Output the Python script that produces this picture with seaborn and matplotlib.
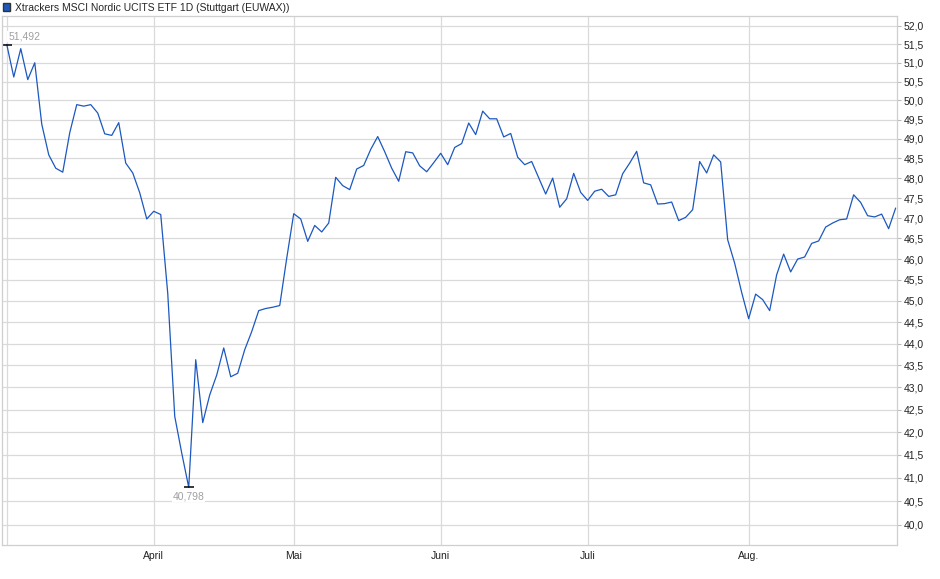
import matplotlib
matplotlib.use('Agg')
import matplotlib.pyplot as plt
import matplotlib.ticker as mticker
from matplotlib.patches import Patch
import numpy as np
import pandas as pd
import seaborn as sns

title = 'Xtrackers MSCI Nordic UCITS ETF 1D (Stuttgart (EUWAX))'

# daily closes, one per trading day starting 3 March 2025
prices = [
    51.492, 50.62, 51.38, 50.55, 51.00, 49.38, 48.59, 48.25, 48.15, 49.16,
    49.89, 49.85, 49.89, 49.67, 49.13, 49.09, 49.42, 48.38, 48.13, 47.63,
    46.98, 47.17, 47.09, 45.18, 42.35, 41.54, 40.798, 43.63, 42.21, 42.83,
    43.28, 43.90, 43.24, 43.32, 43.86, 44.28, 44.77, 44.82, 44.85, 44.89,
    46.02, 47.11, 46.98, 46.43, 46.82, 46.66, 46.88, 48.02, 47.81, 47.71,
    48.23, 48.32, 48.73, 49.06, 48.67, 48.25, 47.92, 48.67, 48.64, 48.31,
    48.16, 48.39, 48.63, 48.34, 48.78, 48.88, 49.41, 49.11, 49.72, 49.52,
    49.52, 49.05, 49.14, 48.53, 48.34, 48.42, 48.01, 47.60, 48.00, 47.27,
    47.48, 48.12, 47.64, 47.44, 47.67, 47.72, 47.54, 47.58, 48.11, 48.38,
    48.68, 47.88, 47.83, 47.35, 47.36, 47.40, 46.94, 47.02, 47.21, 48.42,
    48.13, 48.59, 48.41, 46.47, 45.90, 45.20, 44.58, 45.16, 45.03, 44.77,
    45.62, 46.12, 45.69, 46.00, 46.05, 46.38, 46.44, 46.78, 46.88, 46.96,
    46.98, 47.58, 47.39, 47.06, 47.03, 47.10, 46.74, 47.25,
]

# first trading day of each month (index into prices)
month_starts = [21, 41, 62, 83, 106]
month_labels = ['April', 'Mai', 'Juni', 'Juli', 'Aug.']

y_ticks = list(np.arange(40.0, 52.01, 0.5))

df = pd.DataFrame({'day': range(len(prices)), 'price': prices})

sns.set_style('white')
plt.rcParams['font.family'] = ['Liberation Sans', 'DejaVu Sans']

line_color = '#1b58c0'
grid_color = '#dadada'

fig = plt.figure(figsize=(9.4, 5.79), dpi=100)
ax = fig.add_axes([0.0025, 0.0587, 0.9518, 0.9137])

sns.lineplot(data=df, x='day', y='price', ax=ax, color=line_color, linewidth=0.9)

ax.set_yscale('log')
ax.set_ylim(39.58, 52.27)
ax.set_xlim(-0.63, len(prices) - 0.8)

ax.yaxis.set_major_locator(mticker.FixedLocator(y_ticks))
ax.yaxis.set_major_formatter(mticker.FixedFormatter([f'{v:.1f}'.replace('.', ',') for v in y_ticks]))
ax.yaxis.set_minor_locator(mticker.NullLocator())
ax.yaxis.tick_right()

ax.set_xticks([0] + month_starts)
ax.set_xticklabels([''] + month_labels)

ax.grid(True, color=grid_color, linewidth=0.9)
ax.set_axisbelow(True)
for s in ax.spines.values():
    s.set_color('#cfcfcf')
    s.set_linewidth(0.9)

ax.tick_params(axis='y', labelsize=7.5, length=3, color='#bbbbbb', pad=1.5, labelcolor='#222222')
ax.tick_params(axis='x', labelsize=7.5, length=0, pad=4, labelcolor='#222222')
ax.set_xlabel('')
ax.set_ylabel('')

# highest and lowest close
i_max = int(np.argmax(prices))
i_min = int(np.argmin(prices))
for i, dy, va in [(i_max, 2, 'bottom'), (i_min, -3, 'top')]:
    ax.plot(i, prices[i], marker='_', markersize=7, markeredgewidth=1.1, color='black')
    ax.annotate(f'{prices[i]:.3f}'.replace('.', ','), (i, prices[i]),
                xytext=(1 if i == i_max else 0, dy), textcoords='offset points',
                ha='left' if i == i_max else 'center', va=va,
                fontsize=7.5, color='#a0a0a0',
                bbox=dict(facecolor='white', edgecolor='none', pad=0.5))

fig.legend(handles=[Patch(facecolor=line_color, edgecolor='#333333', label=title)],
           loc='upper left', bbox_to_anchor=(0.0, 1.0), frameon=False,
           fontsize=7.5, handlelength=0.75, handleheight=0.75,
           handletextpad=0.45, borderaxespad=0.15, borderpad=0.1)

fig.savefig('out.png', dpi=100)
